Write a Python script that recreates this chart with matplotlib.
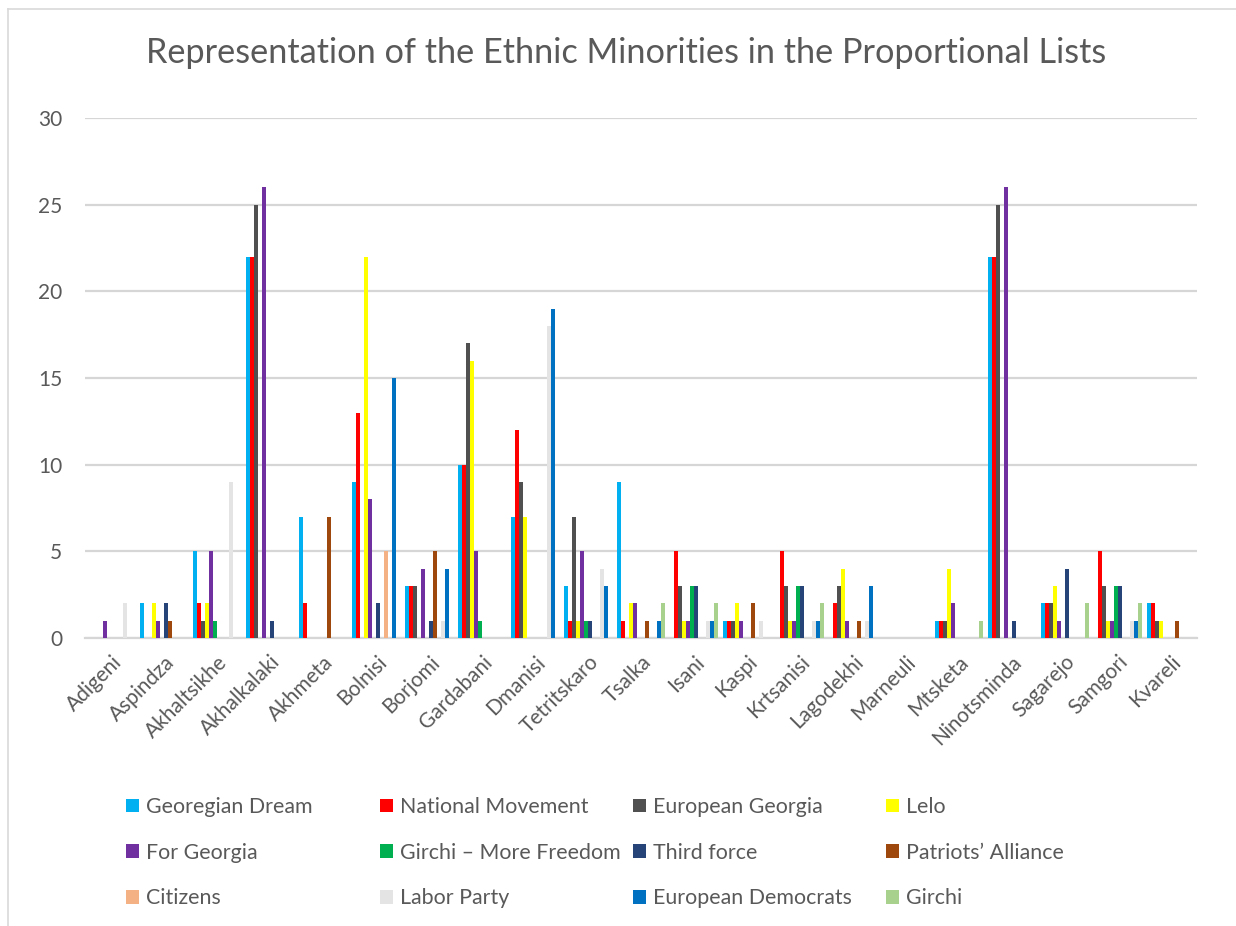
import numpy as np
import matplotlib
matplotlib.use("Agg")
import matplotlib.pyplot as plt
from matplotlib.patches import Patch
from matplotlib.lines import Line2D

plt.rcParams['font.family'] = ['Lato', 'DejaVu Sans']

# municipalities (x categories)
districts = ['Adigeni', 'Aspindza', 'Akhaltsikhe', 'Akhalkalaki', 'Akhmeta', 'Bolnisi',
             'Borjomi', 'Gardabani', 'Dmanisi', 'Tetritskaro', 'Tsalka', 'Isani', 'Kaspi',
             'Krtsanisi', 'Lagodekhi', 'Marneuli', 'Mtsketa', 'Ninotsminda', 'Sagarejo',
             'Samgori', 'Kvareli']

# number of ethnic minority candidates per party
georgian_dream = [0, 2, 5, 22, 7, 9, 3, 10, 7, 3, 9, 0, 1, 0, 0, 0, 1, 22, 2, 0, 2]
national_movement = [0, 0, 2, 22, 2, 13, 3, 10, 12, 1, 1, 5, 1, 5, 2, 0, 1, 22, 2, 5, 2]
european_georgia = [0, 0, 1, 25, 0, 0, 3, 17, 9, 7, 0, 3, 1, 3, 3, 0, 1, 25, 2, 3, 1]
lelo = [0, 2, 2, 0, 0, 22, 0, 16, 7, 1, 2, 1, 2, 1, 4, 0, 4, 0, 3, 1, 1]
for_georgia = [1, 1, 5, 26, 0, 8, 4, 5, 0, 5, 2, 1, 1, 1, 1, 0, 2, 26, 1, 1, 0]
girchi_more_freedom = [0, 0, 1, 0, 0, 0, 0, 1, 0, 1, 0, 3, 0, 3, 0, 0, 0, 0, 0, 3, 0]
third_force = [0, 2, 0, 1, 0, 2, 1, 0, 0, 1, 0, 3, 0, 3, 0, 0, 0, 1, 4, 3, 0]
patriots_alliance = [0, 1, 0, 0, 7, 0, 5, 0, 0, 0, 1, 0, 2, 0, 1, 0, 0, 0, 0, 0, 1]
citizens = [0, 0, 0, 0, 0, 5, 0, 0, 0, 0, 0, 0, 0, 0, 0, 0, 0, 0, 0, 0, 0]
labor_party = [2, 0, 9, 0, 0, 0, 1, 0, 18, 4, 0, 1, 1, 1, 1, 0, 0, 0, 0, 1, 0]
european_democrats = [0, 0, 0, 0, 0, 15, 4, 0, 19, 3, 1, 1, 0, 1, 3, 0, 0, 0, 0, 1, 0]
girchi = [0, 0, 0, 0, 0, 0, 0, 0, 0, 0, 2, 2, 0, 2, 0, 0, 1, 0, 2, 2, 0]

party_names = ['Georegian Dream', 'National Movement', 'European Georgia', 'Lelo',
               'For Georgia', 'Girchi – More Freedom', 'Third force', 'Patriots’ Alliance',
               'Citizens', 'Labor Party', 'European Democrats', 'Girchi']
party_values = [georgian_dream, national_movement, european_georgia, lelo, for_georgia,
                girchi_more_freedom, third_force, patriots_alliance, citizens, labor_party,
                european_democrats, girchi]
party_colors = ['#00B0F0', '#FF0000', '#505050', '#FFFF00', '#7030A0', '#00B050',
                '#264478', '#9E480E', '#F4B183', '#E4E4E4', '#0070C0', '#A9D18E']

text_color = '#595959'

fig = plt.figure(figsize=(12.36, 9.26), dpi=100)
ax = fig.add_axes([85 / 1236, 1 - 638 / 926, 1112 / 1236, 520 / 926])

x = np.arange(len(districts))
bar_w = 0.0755
for i, (name, vals, col) in enumerate(zip(party_names, party_values, party_colors)):
    offs = (i - (len(party_names) - 1) / 2) * bar_w
    ax.bar(x + offs, vals, width=bar_w, color=col, linewidth=0, label=name, zorder=3)

ax.set_xlim(-0.5, len(districts) - 0.5)
ax.set_ylim(0, 30)
ax.set_yticks(range(0, 31, 5))
ax.grid(axis='y', color='#D6D6D6', linewidth=1.6, zorder=0)
for s in ['top', 'right', 'left']:
    ax.spines[s].set_visible(False)
ax.spines['bottom'].set_color('#D6D6D6')
ax.spines['bottom'].set_linewidth(1.6)
ax.tick_params(axis='y', length=0, pad=16.5, labelsize=15, labelcolor=text_color)
ax.tick_params(axis='x', length=0, pad=10, labelsize=15, labelcolor=text_color)
ax.set_xticks(x)
ax.set_xticklabels(districts, rotation=45, ha='right', va='top', rotation_mode='anchor')

fig.text(0.5065, 1 - 53 / 926, 'Representation of the Ethnic Minorities in the Proportional Lists',
         ha='center', va='center', fontsize=24.7, color=text_color)

# legend: four columns, placed separately so the spacing is even
handles = [Patch(facecolor=c, edgecolor='none') for c in party_colors]
col_x = [126, 380, 633, 886]
for c in range(4):
    idx = [c, c + 4, c + 8]
    fig.legend([handles[k] for k in idx], [party_names[k] for k in idx],
               loc='upper left', bbox_to_anchor=(col_x[c] / 1236, 1 - 797 / 926),
               frameon=False, fontsize=15.4, labelcolor=text_color,
               handlelength=0.6, handleheight=0.6, handletextpad=0.35,
               labelspacing=1.2, borderpad=0, borderaxespad=0)

# chart frame
fig.add_artist(Line2D([8 / 1236, 1], [1 - 9 / 926] * 2, color='#D9D9D9', lw=1.2))
fig.add_artist(Line2D([8 / 1236] * 2, [0, 1 - 9 / 926], color='#D9D9D9', lw=1.2))

fig.savefig('out.png', dpi=100)
